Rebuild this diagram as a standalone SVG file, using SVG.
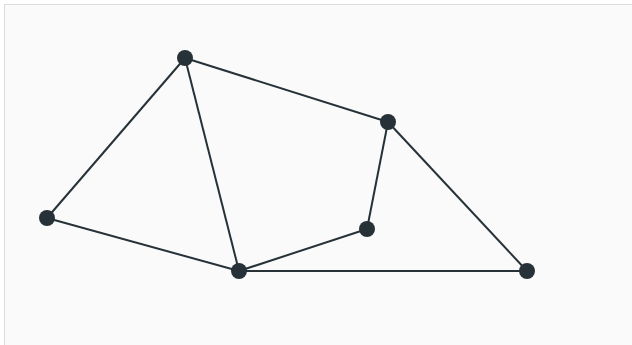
<svg xmlns="http://www.w3.org/2000/svg" width="632" height="345" viewBox="0 0 632 345">
<style>
.edge{stroke:#263238;stroke-width:2;fill:none}
.node{fill:#263238}
</style>
<rect x="4.5" y="4.5" width="640" height="360" fill="#fafafa" stroke="#dddddd" stroke-width="1"/>
<g id="connectors">
<line class="edge" x1="185" y1="58" x2="388" y2="122"/>
<line class="edge" x1="185" y1="58" x2="47" y2="218"/>
<line class="edge" x1="185" y1="58" x2="239" y2="271"/>
<line class="edge" x1="388" y1="122" x2="367" y2="229"/>
<line class="edge" x1="388" y1="122" x2="527" y2="271"/>
<line class="edge" x1="47" y1="218" x2="239" y2="271"/>
<line class="edge" x1="367" y1="229" x2="239" y2="271"/>
<line class="edge" x1="239" y1="271" x2="527" y2="271"/>
</g>
<g id="n1"><circle class="node" cx="185" cy="58" r="8"/></g>
<g id="n2"><circle class="node" cx="388" cy="122" r="8"/></g>
<g id="n3"><circle class="node" cx="47" cy="218" r="8"/></g>
<g id="n4"><circle class="node" cx="367" cy="229" r="8"/></g>
<g id="n5"><circle class="node" cx="239" cy="271" r="8"/></g>
<g id="n6"><circle class="node" cx="527" cy="271" r="8"/></g>
</svg>
